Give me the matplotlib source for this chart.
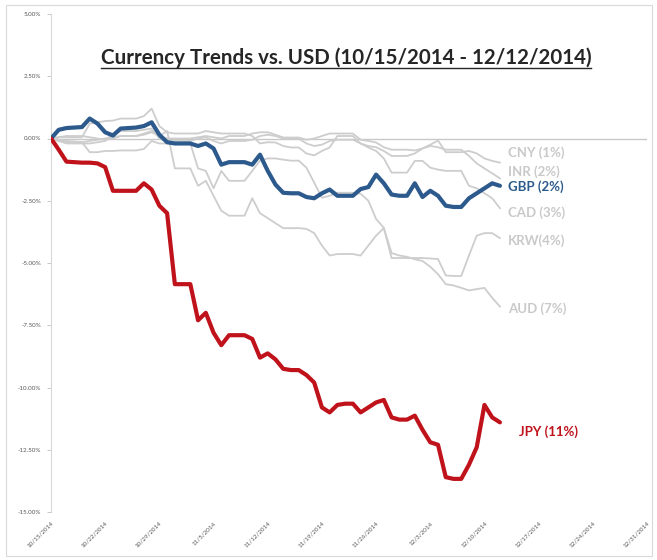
import numpy as np
import pandas as pd
import matplotlib
matplotlib.use("Agg")
import matplotlib.pyplot as plt
from matplotlib.lines import Line2D
from matplotlib.patches import Rectangle

plt.rcParams['font.family'] = ['Lato', 'DejaVu Sans']

# ---------------- data ----------------
start_date = "2014-10-15"
end_date = "2014-12-12"
dates = pd.date_range(start_date, end_date, freq="D")

jpy = [0, -0.45, -0.93, -0.95, -0.97, -0.97, -1.0, -1.15, -2.1, -2.1,
       -2.1, -2.1, -1.8, -2.05, -2.7, -3.0, -5.85, -5.85, -5.85, -7.3,
       -7.0, -7.8, -8.3, -7.9, -7.9, -7.9, -8.05, -8.8, -8.63, -8.87,
       -9.25, -9.3, -9.3, -9.5, -9.8, -10.8, -11.0, -10.7, -10.65, -10.65,
       -11.0, -10.8, -10.6, -10.5, -11.2, -11.29, -11.29, -11.13, -11.7, -12.2,
       -12.3, -13.6, -13.67, -13.67, -13.1, -12.4, -10.7, -11.2, -11.4]
gbp = [0, 0.35, 0.42, 0.44, 0.46, 0.8, 0.6, 0.25, 0.12, 0.4,
       0.42, 0.44, 0.5, 0.65, 0.15, -0.15, -0.2, -0.2, -0.2, -0.3,
       -0.2, -0.4, -1.05, -0.95, -0.95, -0.95, -1.05, -0.65, -1.3, -1.85,
       -2.18, -2.2, -2.2, -2.35, -2.4, -2.2, -2.05, -2.3, -2.3, -2.3,
       -2.03, -1.95, -1.45, -1.8, -2.25, -2.3, -2.3, -1.8, -2.35, -2.1,
       -2.3, -2.7, -2.75, -2.75, -2.4, -2.2, -2.0, -1.8, -1.9]
cny = [0, 0.05, 0.1, 0.1, 0.1, 0.05, 0.0, -0.05, 0.0, 0.1,
       0.1, 0.1, 0.15, 0.25, 0.1, 0.0, 0.0, 0.0, 0.0, 0.05,
       0.1, 0.05, 0.0, 0.1, 0.1, 0.1, 0.2, 0.25, 0.25, 0.15,
       0.04, 0.04, 0.04, -0.05, 0.0, 0.1, 0.2, 0.2, 0.2, 0.2,
       -0.05, -0.1, -0.16, -0.35, -0.45, -0.45, -0.45, -0.48, -0.4, -0.25,
       -0.08, -0.55, -0.55, -0.55, -0.5, -0.6, -0.8, -0.9, -0.97]
inr = [0, -0.1, -0.2, -0.2, -0.2, -0.2, -0.15, -0.1, 0.2, 0.3,
       0.3, 0.3, 0.35, 0.4, 0.0, -0.1, -0.1, -0.1, -0.1, 0.0,
       0.05, -0.1, -0.2, -0.1, -0.1, -0.1, -0.05, 0.1, 0.15, 0.1,
       0.0, 0.0, 0.0, -0.2, -0.3, -0.25, -0.1, -0.05, -0.05, -0.05,
       -0.2, -0.3, -0.35, -0.5, -0.7, -0.7, -0.7, -0.6, -0.4, -0.3,
       -0.35, -0.45, -0.45, -0.45, -0.7, -1.0, -1.2, -1.4, -1.6]
cad = [0, 0.05, 0.05, 0.05, 0.05, 0.6, 0.65, 0.7, 0.72, 0.8,
       0.8, 0.8, 0.9, 1.2, 0.5, 0.25, 0.2, 0.2, 0.2, 0.2,
       0.3, 0.25, 0.2, 0.2, 0.2, 0.2, 0.1, -0.2, -0.15, -0.16,
       -0.3, -0.36, -0.36, -0.6, -0.68, -0.5, -0.36, 0.1, 0.1, 0.1,
       -0.2, -0.36, -0.5, -0.8, -1.37, -1.37, -1.37, -0.9, -0.9, -1.17,
       -1.25, -1.3, -1.3, -1.3, -1.9, -2.0, -2.2, -2.4, -2.8]
krw = [0, -0.05, -0.1, -0.12, -0.15, -0.55, -0.55, -0.5, -0.5, -0.48,
       -0.48, -0.48, -0.42, -0.1, -0.2, -0.2, -0.2, -0.2, -0.2, -1.2,
       -1.3, -2.0, -1.3, -1.7, -1.7, -1.7, -1.3, -0.89, -0.8, -0.8,
       -0.85, -0.89, -0.89, -1.17, -1.77, -2.38, -2.3, -2.18, -2.18, -2.18,
       -2.22, -2.5, -3.23, -3.59, -4.8, -4.8, -4.8, -4.8, -4.8, -4.82,
       -4.84, -5.5, -5.52, -5.52, -4.7, -3.9, -3.8, -3.8, -4.0]
aud = [0, -0.1, -0.15, -0.15, -0.15, -0.1, -0.05, 0.0, 0.05, 0.1,
       0.1, 0.1, 0.2, 0.3, 0.1, 0.3, -1.2, -1.2, -1.2, -1.9,
       -1.7, -2.3, -2.9, -3.1, -3.1, -3.1, -2.4, -3.0, -3.2, -3.4,
       -3.6, -3.6, -3.6, -3.63, -3.8, -4.3, -4.7, -4.64, -4.64, -4.64,
       -4.7, -4.3, -3.9, -3.6, -4.6, -4.7, -4.75, -4.85, -4.92, -5.15,
       -5.45, -5.85, -5.9, -6.0, -6.1, -6.05, -6.0, -6.4, -6.75]

gray_series = [cny, inr, cad, krw, aud]
gray_labels = ["CNY (1%)", "INR (2%)", "CAD (3%)", "KRW(4%)", "AUD (7%)"]
gbp_label = "GBP (2%)"
jpy_label = "JPY (11%)"

tick_dates = ["2014-10-15", "2014-10-22", "2014-10-29", "2014-11-05", "2014-11-12",
              "2014-11-19", "2014-11-26", "2014-12-03", "2014-12-10", "2014-12-17",
              "2014-12-24", "2014-12-31"]
tick_labels = ["10/15/2014", "10/22/2014", "10/29/2014", "11/5/2014", "11/12/2014",
               "11/19/2014", "11/26/2014", "12/3/2014", "12/10/2014", "12/17/2014",
               "12/24/2014", "12/31/2014"]
y_ticks = [5, 2.5, 0, -2.5, -5, -7.5, -10, -12.5, -15]
title = "Currency Trends vs. USD (10/15/2014 - 12/12/2014)"

# ---------------- styling / layout ----------------
W, H = 657, 560
fig = plt.figure(figsize=(W / 100, H / 100), dpi=100)
ax = fig.add_axes([51 / W, 1 - 512 / H, (647 - 51) / W, (512 - 14) / H])

gray = "#cdcdcd"
blue = "#2d5a8c"
red = "#c0121b"

for s in gray_series:
    ax.plot(dates, s, color=gray, lw=1.3, solid_joinstyle="round", zorder=2)
ax.plot(dates, gbp, color=blue, lw=3.0, solid_joinstyle="round", solid_capstyle="round", zorder=3)
ax.plot(dates, jpy, color=red, lw=3.0, solid_joinstyle="round", solid_capstyle="round", zorder=4)

ax.axhline(0, color="#c8c8c8", lw=1.0, zorder=1)

xt = pd.to_datetime(tick_dates)
ax.set_xlim(xt[0], xt[-1])
ax.set_ylim(-15, 5)
ax.set_xticks(xt)
ax.set_xticklabels(tick_labels, rotation=45, ha="right", rotation_mode="anchor",
                   fontsize=4.5, color="#595959")
ax.tick_params(axis="x", length=0, pad=6)
ax.set_yticks(y_ticks)
ax.set_yticklabels([f"{v:.2f}%" for v in y_ticks], fontsize=4.5, color="#595959")
ax.tick_params(axis="y", length=3, width=0.6, color="#bfbfbf", pad=4)

for sp in ["top", "right", "bottom"]:
    ax.spines[sp].set_visible(False)
ax.spines["left"].set_color("#d9d9d9")
ax.spines["left"].set_linewidth(0.8)

# end labels (positions in data coords)
label_x = pd.Timestamp("2014-12-13 00:00")
gray_label_y = [-0.56, -1.33, -2.98, -4.11, -6.85]
for lab, yy in zip(gray_labels, gray_label_y):
    ax.text(label_x, yy, lab, color="#c9c9c9", fontsize=9.5, fontweight="bold",
            va="center", ha="left")
ax.text(label_x, -1.94, gbp_label, color=blue, fontsize=9.5, fontweight="bold",
        va="center", ha="left")
ax.text(pd.Timestamp("2014-12-14 12:00"), -11.77, jpy_label, color=red, fontsize=9.5,
        fontweight="bold", va="center", ha="left")

# title with underline
t = fig.text(346 / W, 1 - 58 / H, title, ha="center", va="center", fontsize=14.8,
             fontweight="bold", color="#262626")
fig.canvas.draw()
bb = t.get_window_extent().transformed(fig.transFigure.inverted())
uy = bb.y0 + 0.5 / H
fig.add_artist(Line2D([bb.x0, bb.x1], [uy, uy], transform=fig.transFigure,
                      color="#262626", lw=1.0))

# outer chart border
fig.add_artist(Rectangle((6 / W, 4 / H), (652 - 6) / W, (555 - 4) / H,
                         transform=fig.transFigure, fill=False,
                         edgecolor="#d9d9d9", lw=0.8))

fig.savefig("out.png", dpi=100)
